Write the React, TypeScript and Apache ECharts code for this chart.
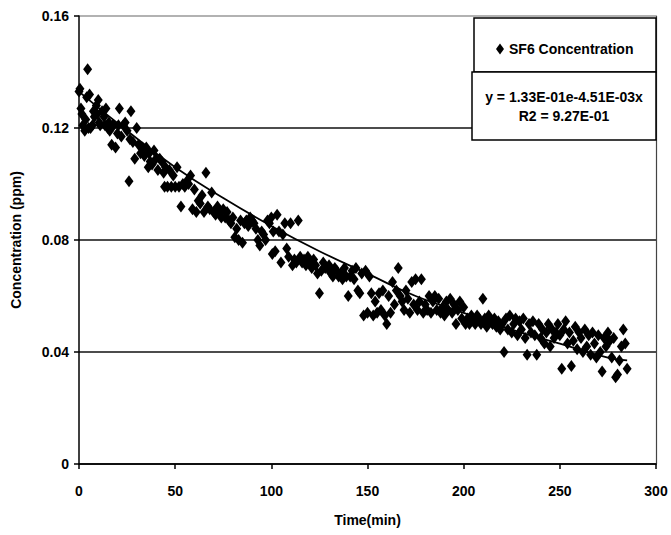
import React, { useEffect, useRef } from "react";
import * as echarts from "echarts";

const xTicks = [0, 50, 100, 150, 200, 250, 300];
const yTicks = [0, 0.04, 0.08, 0.12, 0.16];
const seriesName = "SF6 Concentration";
const equationLines = ["y = 1.33E-01e-4.51E-03x", "R2 = 9.27E-01"];

const sf6Points: [number, number][] = [
  [0, 0.133], [0.5, 0.134], [1, 0.127], [1.5, 0.125], [2, 0.121], [3, 0.119], [3.5, 0.123], [4, 0.131], [4.5, 0.141], [5, 0.12],
  [5.5, 0.132], [6, 0.12], [7, 0.121], [7.5, 0.126], [8, 0.124], [9, 0.128], [9.5, 0.125], [10, 0.13], [10.5, 0.122], [11, 0.121],
  [12, 0.126], [13, 0.124], [13.5, 0.121], [14, 0.127], [15, 0.12], [15.5, 0.122], [16, 0.119], [17, 0.114], [17.5, 0.121], [18, 0.121],
  [19, 0.113], [20, 0.118], [20.5, 0.121], [21, 0.127], [22, 0.117], [23, 0.121], [24, 0.122], [25, 0.119], [26, 0.101], [26.5, 0.116],
  [27, 0.126], [28, 0.115], [29, 0.109], [30, 0.12], [31, 0.114],
  [32, 0.111], [33, 0.113], [34, 0.11], [35, 0.113], [36, 0.106], [36.5, 0.111], [37, 0.108], [38, 0.107], [39, 0.112], [40, 0.109],
  [41, 0.105], [42, 0.109], [43, 0.108], [44, 0.104], [45, 0.106],
  [44.5, 0.099], [46, 0.099], [47, 0.105], [48, 0.099], [49, 0.103], [50, 0.099], [51, 0.106], [52, 0.099], [53, 0.092], [54, 0.1],
  [55, 0.099], [56, 0.101], [57, 0.1], [58, 0.103], [59, 0.091], [60, 0.098], [61, 0.09], [62, 0.094], [63, 0.093], [64, 0.096],
  [65, 0.09], [66, 0.104], [67, 0.092], [68, 0.091], [69, 0.097], [70, 0.09], [71, 0.089], [72, 0.092], [73, 0.09], [74, 0.088],
  [75, 0.091], [76, 0.088], [77, 0.09], [78, 0.087], [79, 0.086], [80, 0.088],
  [81, 0.081], [82, 0.084], [83, 0.08], [84, 0.087], [85, 0.079], [86, 0.086], [87, 0.087], [88, 0.085], [89, 0.088], [90, 0.087],
  [91, 0.086], [92, 0.084], [93, 0.08], [94, 0.078], [95, 0.083], [96, 0.082], [97, 0.08], [98, 0.087], [99, 0.086], [100, 0.088],
  [100.5, 0.075], [101, 0.083], [102, 0.076], [103, 0.089], [104, 0.083], [105, 0.072], [106, 0.082], [107, 0.086], [108, 0.077], [109, 0.074],
  [110, 0.086], [111, 0.071], [112, 0.073], [113, 0.072], [114, 0.087], [115, 0.074], [116, 0.072], [117, 0.073], [118, 0.071], [119, 0.074],
  [120, 0.072],
  [121, 0.07], [122, 0.073], [123, 0.071], [124, 0.068], [125, 0.061], [126, 0.069], [127, 0.072], [128, 0.07], [129, 0.07], [130, 0.071],
  [131, 0.068], [132, 0.067], [133, 0.07], [134, 0.069], [135, 0.067], [136, 0.068], [137, 0.066], [138, 0.07], [139, 0.067], [140, 0.06],
  [141, 0.067], [142, 0.069], [143, 0.066], [144, 0.07], [145, 0.062],
  [146, 0.061], [147, 0.068], [148, 0.053], [149, 0.069], [150, 0.054], [151, 0.067], [152, 0.061], [153, 0.053], [154, 0.058], [155, 0.054],
  [156, 0.061], [157, 0.055], [158, 0.062], [159, 0.053], [160, 0.05], [161, 0.06], [162, 0.054], [163, 0.065], [164, 0.057], [165, 0.062],
  [166, 0.07],
  [167, 0.06], [168, 0.058], [169, 0.055], [170, 0.062], [171, 0.059], [172, 0.054], [173, 0.065], [174, 0.057], [175, 0.066], [176, 0.055],
  [177, 0.058], [178, 0.066], [179, 0.054], [180, 0.057], [181, 0.055], [182, 0.06], [183, 0.054], [184, 0.058], [185, 0.06],
  [186, 0.055], [187, 0.059], [188, 0.054], [189, 0.056], [190, 0.053], [191, 0.058], [192, 0.055], [193, 0.059], [194, 0.054], [195, 0.057],
  [196, 0.05], [197, 0.055], [198, 0.058], [199, 0.052], [200, 0.056], [201, 0.05], [202, 0.052], [203, 0.05], [204, 0.053], [205, 0.051],
  [206, 0.05], [207, 0.053], [208, 0.052], [209, 0.05], [210, 0.059],
  [211, 0.052], [212, 0.049], [213, 0.053], [214, 0.051], [215, 0.05], [216, 0.052], [217, 0.049], [218, 0.051], [219, 0.048], [220, 0.05],
  [221, 0.04], [222, 0.052], [223, 0.048], [224, 0.053], [225, 0.047], [226, 0.05], [227, 0.052], [228, 0.046], [229, 0.051], [230, 0.048],
  [231, 0.052], [232, 0.045], [233, 0.039], [234, 0.05], [235, 0.047],
  [236, 0.051], [237, 0.046], [238, 0.039], [239, 0.05], [240, 0.045], [241, 0.048], [242, 0.043], [243, 0.047], [244, 0.05], [245, 0.042],
  [246, 0.048], [247, 0.045], [248, 0.047], [249, 0.05], [250, 0.046], [251, 0.034], [252, 0.048], [253, 0.051], [254, 0.043], [255, 0.047],
  [256, 0.035], [257, 0.044], [258, 0.049], [259, 0.041], [260, 0.047],
  [261, 0.045], [262, 0.04], [263, 0.048], [264, 0.042], [265, 0.046], [266, 0.039], [267, 0.047], [268, 0.043], [269, 0.038], [270, 0.046],
  [271, 0.04], [272, 0.033], [273, 0.045], [274, 0.042], [275, 0.047], [276, 0.044], [277, 0.038], [278, 0.045], [279, 0.031], [280, 0.032],
  [281, 0.037], [282, 0.042], [283, 0.048], [284, 0.043], [285, 0.034],
];

const trendPoints: [number, number][] = [
  [0, 0.133], [25, 0.119], [50, 0.106], [75, 0.095], [100, 0.085], [125, 0.076], [150, 0.068],
  [175, 0.06], [200, 0.054], [225, 0.048], [250, 0.043], [275, 0.038], [285, 0.037],
];

const FONT = "'Liberation Sans', Arial, sans-serif";

export default function App() {
  const ref = useRef<HTMLDivElement>(null);
  useEffect(() => {
    if (!ref.current) return;
    const chart = echarts.init(ref.current, null, { renderer: "svg" });
    chart.setOption({
      animation: false,
      backgroundColor: "#fff",
      grid: { left: 79, right: 15, top: 16, bottom: 71, containLabel: false },
      legend: {
        show: true,
        z: 30,
        data: [{ name: seriesName, icon: "diamond" }],
        left: 491,
        top: 37,
        itemWidth: 8,
        itemHeight: 11,
        itemGap: 6,
        textStyle: { fontFamily: FONT, fontWeight: "bold", fontSize: 14, color: "#000" },
      },
      xAxis: {
        type: "value",
        min: xTicks[0],
        max: xTicks[xTicks.length - 1],
        interval: 50,
        name: "Time(min)",
        nameLocation: "middle",
        nameGap: 49,
        nameTextStyle: { fontFamily: FONT, fontWeight: "bold", fontSize: 14, color: "#000" },
        axisLine: { show: true, onZero: false, lineStyle: { color: "#000", width: 1.5 } },
        axisTick: { show: true, inside: false, length: 5, lineStyle: { color: "#000", width: 1.5 } },
        axisLabel: { margin: 20, fontFamily: FONT, fontWeight: "bold", fontSize: 14, color: "#000" },
        splitLine: { show: false },
      },
      yAxis: [
        {
          type: "value",
          min: yTicks[0],
          max: yTicks[yTicks.length - 1],
          interval: 0.04,
          name: "Concentration (ppm)",
          nameLocation: "middle",
          nameGap: 56,
          nameTextStyle: { fontFamily: FONT, fontWeight: "bold", fontSize: 14, color: "#000" },
          axisLine: { show: true, lineStyle: { color: "#000", width: 1.5 } },
          axisTick: { show: true, inside: false, length: 5, lineStyle: { color: "#000", width: 1.5 } },
          axisLabel: {
            margin: 10,
            fontFamily: FONT,
            fontWeight: "bold",
            fontSize: 14,
            color: "#000",
            formatter: (v: number) => (v === 0 ? "0" : v.toFixed(2)),
          },
          splitLine: {
            show: true,
            lineStyle: { color: ["#000", "#111", "#111", "#111", "#999"], width: 1.5 },
          },
        },
        {
          type: "value",
          position: "right",
          min: yTicks[0],
          max: yTicks[yTicks.length - 1],
          interval: 0.04,
          axisLine: { show: true, lineStyle: { color: "#444", width: 1.2 } },
          axisTick: { show: false },
          axisLabel: { show: false },
          splitLine: { show: false },
        },
      ],
      graphic: [
        {
          type: "rect",
          shape: { x: 474, y: 18, width: 182, height: 54 },
          style: { fill: "#fff", stroke: "#000", lineWidth: 1.5 },
          z: 10,
        },
        {
          type: "rect",
          shape: { x: 472, y: 72, width: 184, height: 68 },
          style: { fill: "#fff", stroke: "#000", lineWidth: 1.5 },
          z: 10,
        },
        {
          type: "text",
          x: 564,
          y: 97,
          z: 11,
          style: {
            text: equationLines[0],
            fill: "#000",
            font: `bold 14px ${FONT}`,
            textAlign: "center",
            textVerticalAlign: "middle",
          },
        },
        {
          type: "text",
          x: 564,
          y: 116,
          z: 11,
          style: {
            text: equationLines[1],
            fill: "#000",
            font: `bold 14px ${FONT}`,
            textAlign: "center",
            textVerticalAlign: "middle",
          },
        },
      ],
      series: [
        {
          name: seriesName,
          type: "scatter",
          symbol: "diamond",
          symbolSize: [9, 12],
          itemStyle: { color: "#000", opacity: 1 },
          data: sf6Points,
          z: 3,
        },
        {
          name: "trend",
          type: "line",
          smooth: true,
          showSymbol: false,
          symbol: "none",
          lineStyle: { color: "#000", width: 1.8 },
          data: trendPoints,
          z: 4,
        },
      ],
    });
    return () => chart.dispose();
  }, []);
  return (
    <div
      ref={ref}
      style={{ position: "absolute", left: 0, top: 0, width: 671, height: 535 }}
    />
  );
}
